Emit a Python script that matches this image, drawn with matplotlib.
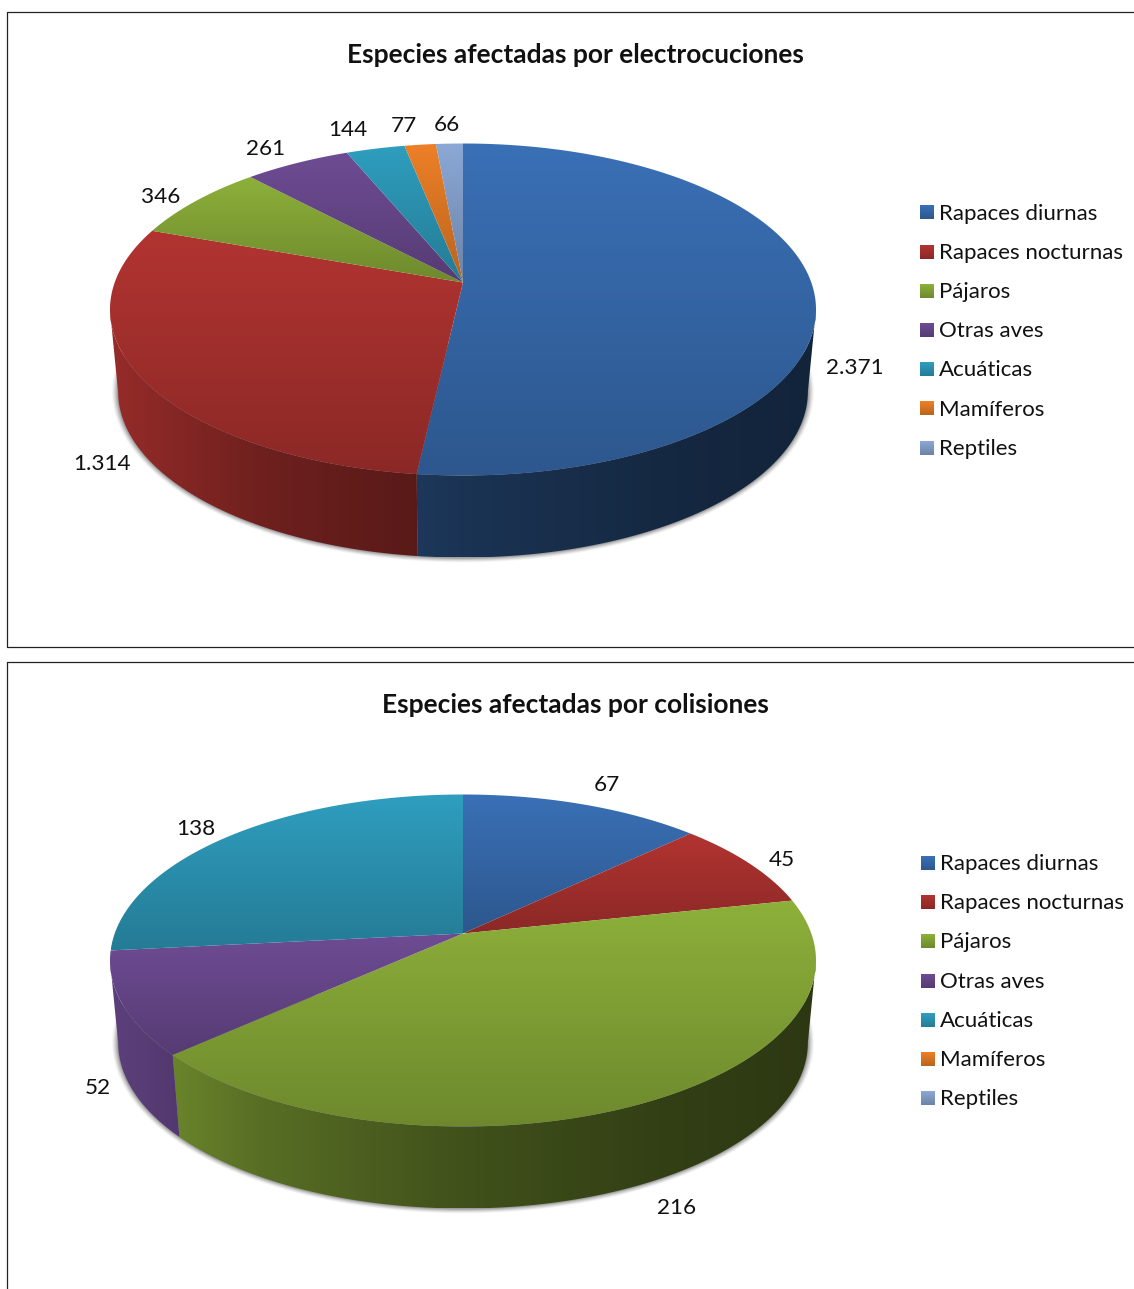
import numpy as np
import matplotlib
matplotlib.use("Agg")
import matplotlib.pyplot as plt
from matplotlib.patches import Polygon
from matplotlib.colors import to_rgb

categories = ["Rapaces diurnas", "Rapaces nocturnas", "Pájaros", "Otras aves",
              "Acuáticas", "Mamíferos", "Reptiles"]
electro_values = [2371, 1314, 346, 261, 144, 77, 66]
colision_values = [67, 45, 216, 52, 138, 0, 0]
electro_labels = ["2.371", "1.314", "346", "261", "144", "77", "66"]
colision_labels = ["67", "45", "216", "52", "138", "", ""]
title_electro = "Especies afectadas por electrocuciones"
title_colision = "Especies afectadas por colisiones"
colors = ["#3A70B6", "#B23431", "#8DB03A", "#6E4C94", "#2F9EBF", "#EE8027", "#8BA8D6"]

electro_label_xy = [(855, 368), (102, 464), (161, 197), (266, 149), (348, 130), (404, 126), (447, 125)]
colision_label_xy = [(607, 785), (782, 860), (677, 1208), (98, 1088), (196, 829), None, None]

FONT = ["Lato", "DejaVu Sans"]
W, H = 1134, 1289
fig = plt.figure(figsize=(W / 100, H / 100), dpi=100)
ax = fig.add_axes([0, 0, 1, 1])
ax.set_axis_off()

RX, RY, APEX, DEPTH, NARROW = 353.0, 166.0, 27.0, 82.0, 0.977
PERSP = APEX / RY
AX = RX * np.sqrt(1 - PERSP ** 2)


def project(theta):
    """Perspective projection of a disc point onto the tilted pie, relative to the ellipse centre."""
    s, c = np.sin(theta), np.cos(theta)
    d = 1 + PERSP * c
    return AX * s / d, -(RY * c + APEX) / d


def side_shade(x):
    return np.interp(x, [-353, -200, 0, 200, 353], [0.84, 0.62, 0.46, 0.36, 0.32])


def clipped_image(img, extent, poly_xy, zorder):
    im = ax.imshow(img, extent=extent, aspect="auto", zorder=zorder, interpolation="bilinear")
    patch = Polygon(poly_xy, closed=True, transform=ax.transData, fc="none", ec="none")
    ax.add_patch(patch)
    im.set_clip_path(patch)


def gradient_fill(poly_xy, color, zorder, lo=0.78):
    x0, y0 = poly_xy.min(axis=0)
    x1, y1 = poly_xy.max(axis=0)
    g = np.linspace(1, lo, 128)[:, None, None] * np.array(to_rgb(color))[None, None, :]
    clipped_image(g, (x0, x1, y1, y0), poly_xy, zorder)


def side_fill(cx, poly_xy, color, zorder):
    y0, y1 = poly_xy[:, 1].min(), poly_xy[:, 1].max()
    xs = np.linspace(-RX, RX, 512)
    g = side_shade(xs)[None, :, None] * np.array(to_rgb(color))[None, None, :]
    clipped_image(np.clip(g, 0, 1), (cx - RX, cx + RX, y1, y0), poly_xy, zorder)


def draw_pie(cx, cy, values, labels, label_xy):
    total = float(sum(values))
    # soft shadow around the lower rim and up the sides of the wall
    t = np.linspace(-0.28, np.pi + 0.28, 280)
    for grow, a in [(6, 0.05), (5, 0.07), (4, 0.09), (3, 0.11), (2, 0.14), (1, 0.18)]:
        ex = cx + (RX * NARROW + grow) * np.cos(t)
        ey = cy + DEPTH + (RY + grow * 0.8) * np.sin(t)
        ax.fill(ex, ey, color="#404040", alpha=a, lw=0, zorder=1)

    start = 0.0
    for val, col, lab, pos in zip(values, colors, labels, label_xy):
        sweep = 2 * np.pi * val / total
        if val > 0:
            th = np.linspace(start, start + sweep, max(int(sweep * 200), 4))
            px, py = project(th)
            # side wall, visible on the front part of the rim
            vis = np.cos(th) < -PERSP
            if vis.sum() >= 2:
                top = np.column_stack([cx + px[vis], cy + py[vis]])
                bot = np.column_stack([cx + px[vis] * NARROW, cy + py[vis] + DEPTH])
                side_fill(cx, np.vstack([top, bot[::-1]]), col, 2)
            # top face
            apex = np.array([[cx, cy - APEX]])
            poly = np.vstack([apex, np.column_stack([cx + px, cy + py])])
            gradient_fill(poly, col, 3)
        if pos is not None and lab:
            ax.text(pos[0], pos[1], lab, ha="center", va="center", fontsize=LABEL_FS,
                    family=FONT, color="#111111", zorder=5)
        start += sweep


def draw_legend(text_x, first_y):
    for i, (name, col) in enumerate(zip(categories, colors)):
        y = first_y + i * 39.2
        g = np.linspace(1, 0.78, 32)[:, None, None] * np.array(to_rgb(col))[None, None, :]
        ax.imshow(g, extent=(text_x - 19, text_x - 5, y + 7, y - 7), aspect="auto", zorder=4)
        ax.text(text_x, y + 1, name, ha="left", va="center", fontsize=LEGEND_FS, family=FONT,
                color="#111111", zorder=5)


LABEL_FS = 16.2
LEGEND_FS = 16.0
TITLE_FS = 19

draw_pie(463, 309.5, electro_values, electro_labels, electro_label_xy)
draw_pie(463, 960.5, colision_values, colision_labels, colision_label_xy)
draw_legend(939, 212.5)
draw_legend(940, 863)

ax.text(575.5, 55, title_electro, ha="center", va="center", fontsize=TITLE_FS,
        fontweight="bold", family=FONT, color="#111111", zorder=5)
ax.text(575.5, 705, title_colision, ha="center", va="center", fontsize=TITLE_FS,
        fontweight="bold", family=FONT, color="#111111", zorder=5)

frame = dict(color="#222222", lw=0.9, zorder=6)
ax.plot([W, 7, 7, W], [12, 12, 647, 647], **frame)
ax.plot([W, 7, 7], [662, 662, H], **frame)

ax.set_xlim(0, W)
ax.set_ylim(H, 0)
fig.savefig("out.png", dpi=100, facecolor="white")
